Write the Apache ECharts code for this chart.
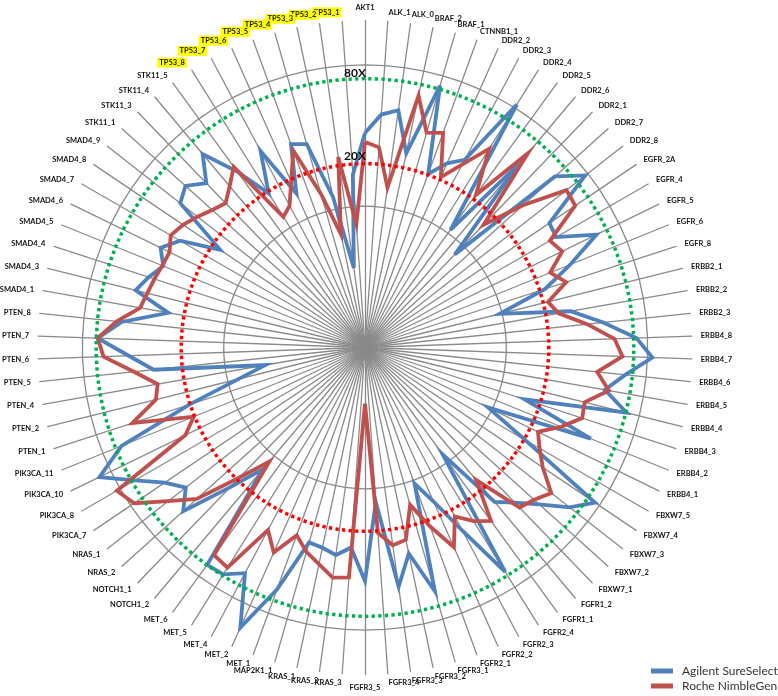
<!DOCTYPE html>
<html><head><meta charset="utf-8">
<script src="https://cdn.jsdelivr.net/npm/echarts@6/dist/echarts.min.js"></script>
<style>html,body{margin:0;padding:0;background:#fff}#c{width:778px;height:696px}</style>
</head><body><div id="c"></div>
<script>
const categories = ["AKT1","ALK_1","ALK_0","BRAF_2","BRAF_1","CTNNB1_1","DDR2_2","DDR2_3","DDR2_4","DDR2_5","DDR2_6","DDR2_1","DDR2_7","DDR2_8","EGFR_2A","EGFR_4","EGFR_5","EGFR_6","EGFR_8","ERBB2_1","ERBB2_2","ERBB2_3","ERBB4_8","ERBB4_7","ERBB4_6","ERBB4_5","ERBB4_4","ERBB4_3","ERBB4_2","ERBB4_1","FBXW7_5","FBXW7_4","FBXW7_3","FBXW7_2","FBXW7_1","FGFR1_2","FGFR1_1","FGFR2_4","FGFR2_3","FGFR2_2","FGFR2_1","FGFR3_1","FGFR3_2","FGFR3_3","FGFR3_4","FGFR3_5","KRAS_3","KRAS_2","KRAS_1","MAP2K1_1","MET_1","MET_2","MET_4","MET_5","MET_6","NOTCH1_2","NOTCH1_1","NRAS_2","NRAS_1","PIK3CA_7","PIK3CA_8","PIK3CA_10","PIK3CA_11","PTEN_1","PTEN_2","PTEN_4","PTEN_5","PTEN_6","PTEN_7","PTEN_8","SMAD4_1","SMAD4_3","SMAD4_4","SMAD4_5","SMAD4_6","SMAD4_7","SMAD4_8","SMAD4_9","STK11_1","STK11_3","STK11_4","STK11_5","TP53_8","TP53_7","TP53_6","TP53_5","TP53_4","TP53_3","TP53_2","TP53_1"];

const agilentSureSelect = [32.9,44.9,49.6,25.4,84.8,20.3,26.7,31.9,106.5,10.7,
  49.6,8.2,64.4,94.9,37.5,36.5,66.5,36.9,21.9,9.6,
  30.0,49.6,83.6,108.2,71.0,52.9,80.8,15.4,52.9,9.3,
  20.3,91.9,68.7,45.6,33.5,26.7,8.6,74.5,29.4,15.6,
  10.6,62.3,30.9,51.2,12.5,44.9,26.3,30.4,28.1,27.2,
  66.5,147.4,64.4,78.2,79.5,13.3,23.8,53.8,40.7,51.2,
  75.7,123.3,72.1,20.3,8.4,5.2,31.9,47.1,78.2,53.8,
  25.9,47.1,40.7,34.6,40.7,32.4,17.2,45.6,51.2,41.3,
  61.3,34.6,19.3,37.5,15.6,34.0,31.4,12.3,3.7,16.9];

const rocheNimbleGen = [28.5,26.3,13.9,66.5,38.1,41.3,20.9,29.4,45.6,21.6,
  62.3,16.1,31.9,64.4,62.3,32.4,35.7,25.9,31.4,21.6,
  24.6,38.1,58.4,66.5,44.9,56.5,40.0,41.3,31.4,23.0,
  26.7,32.9,47.1,40.7,37.5,16.7,32.9,28.1,22.6,35.2,
  22.3,14.4,24.6,25.9,20.6,2.5,42.7,44.1,36.9,31.9,
  25.9,38.7,29.0,68.7,65.4,11.3,19.0,40.0,58.4,93.4,
  106.5,25.9,20.3,53.8,33.5,30.9,44.1,71.0,78.2,58.4,
  41.3,38.7,36.9,35.2,34.6,38.7,35.7,31.9,28.5,26.3,
  30.9,38.1,12.3,13.7,19.3,30.4,13.5,6.6,23.0,7.5];

const gridRingsX = [10, 100];
const thresholdsX = [80, 20];
const thresholdLabels = ["80X", "20X"];
const thresholdColors = ["#00B050", "#FF0000"];
const axisEndX = 206;

const CX = 365, CY = 347.5, R = 327;
const lg = v => Math.log10(v);
const logMax = lg(axisEndX);
// ECharts radar runs counter-clockwise; the reference runs clockwise from the top
const order = [0].concat(categories.map((_, i) => i).slice(1).reverse());
const reorder = arr => order.map(i => arr[i]);
const ring = v => categories.map(() => lg(v));
const radarR = v => R * lg(v) / logMax;
const FONT = "Lato, 'Liberation Sans', sans-serif";

const chart = echarts.init(document.getElementById('c'), null, {renderer: 'canvas'});

chart.setOption({
  animation: false,
  backgroundColor: '#fff',
  legend: {
    data: ['Agilent SureSelect', 'Roche NimbleGen'],
    orient: 'vertical', left: 651, top: 665, padding: 0,
    itemWidth: 22, itemHeight: 5, itemGap: 3, icon: 'rect',
    textStyle: {fontSize: 12, color: '#333', fontFamily: FONT, lineHeight: 12, padding: [0, 0, 0, 4]}
  },
  radar: {
    center: [CX, CY], radius: R, startAngle: 90, shape: 'circle',
    splitNumber: 1,
    indicator: reorder(categories).map(n => ({name: n, min: 0, max: logMax})),
    nameGap: 9,
    axisName: {
      color: '#111', fontSize: 7.5, fontWeight: 'bold', fontFamily: FONT,
      formatter: n => n.indexOf('TP53') === 0 ? '{hl|' + n + '}' : n,
      rich: {hl: {backgroundColor: '#FFFF00', color: '#111', fontSize: 7.5, fontWeight: 'bold', fontFamily: FONT, padding: [1, 2, 1, 2]}}
    },
    axisLine: {lineStyle: {color: '#8a8a8a', width: 1.3}},
    splitLine: {show: false},
    splitArea: {show: false},
    axisTick: {show: false},
    axisLabel: {show: false}
  },
  graphic: thresholdsX.map((v, k) => ({
    type: 'text', silent: true, z: 100,
    x: CX - 10, y: CY - radarR(v) + (k === 0 ? 1 : -2),
    style: {text: thresholdLabels[k], font: "bold 12px " + FONT, fill: '#111',
      textAlign: 'center', textVerticalAlign: 'bottom'}
  })),
  series: [
    {type: 'radar', silent: true, symbol: 'none', z: 1,
     lineStyle: {color: '#8a8a8a', width: 1.3},
     data: gridRingsX.map(v => ({value: ring(v)}))},
    {type: 'radar', name: 'Agilent SureSelect', symbol: 'none', z: 2,
     itemStyle: {color: '#4F81BD'},
     lineStyle: {color: '#4F81BD', width: 3.8, join: 'miter', miterLimit: 6},
     data: [{name: 'Agilent SureSelect', value: reorder(agilentSureSelect).map(lg)}]},
    {type: 'radar', name: 'Roche NimbleGen', symbol: 'none', z: 3,
     itemStyle: {color: '#C0504D'},
     lineStyle: {color: '#C0504D', width: 3.8, join: 'miter', miterLimit: 6},
     data: [{name: 'Roche NimbleGen', value: reorder(rocheNimbleGen).map(lg)}]},
    ...thresholdsX.map((v, k) => ({
      type: 'radar', silent: true, symbol: 'none', z: 4,
      lineStyle: {color: thresholdColors[k], width: 3.5, type: [3.3, 3.3]},
      data: [{value: ring(v)}]
    }))
  ]
});
</script>
</body></html>
